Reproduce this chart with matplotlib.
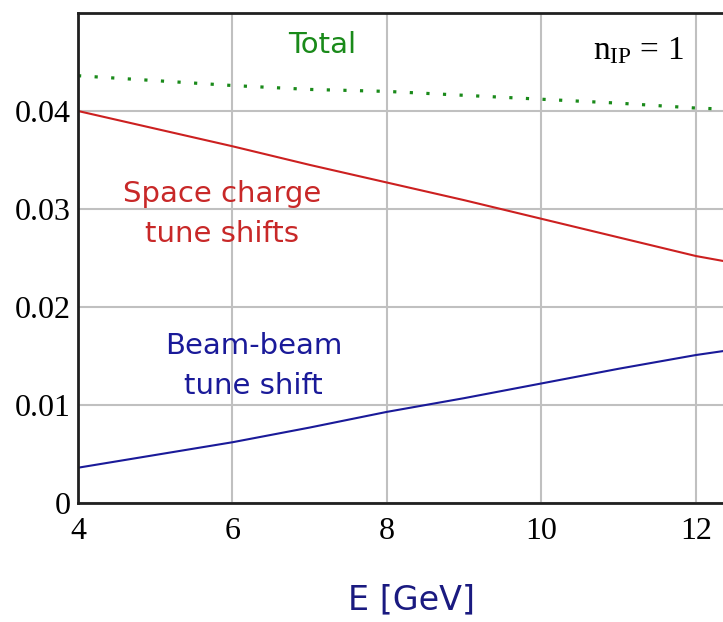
import matplotlib.pyplot as plt
import numpy as np

# energy points [GeV]
energy = [4, 5, 6, 7, 8, 9, 10, 11, 12, 12.35]

# tune shifts
space_charge = [0.0400, 0.0382, 0.0364, 0.0345, 0.0327, 0.0309, 0.0290, 0.0271, 0.0252, 0.0247]
beam_beam = [0.0036, 0.0049, 0.0062, 0.0077, 0.0093, 0.0107, 0.0122, 0.0137, 0.0151, 0.0155]
total = [0.0436, 0.0431, 0.0426, 0.0422, 0.0420, 0.0416, 0.0412, 0.0408, 0.0403, 0.0402]

x_ticks = [4, 6, 8, 10, 12]
y_ticks = [0, 0.01, 0.02, 0.03, 0.04]
y_tick_labels = ["0", "0.01", "0.02", "0.03", "0.04"]

fig = plt.figure(figsize=(7.23, 6.22), dpi=100)
ax = fig.add_axes([78 / 723, 1 - 503 / 622, (723 - 78) / 723, (503 - 13) / 622])

# grid
ax.grid(True, color="#c0c0c0", linewidth=1.5)
ax.set_axisbelow(True)

# curves
ax.plot(energy, space_charge, color="#cc2020", linewidth=1.5)
ax.plot(energy, beam_beam, color="#1a1a99", linewidth=1.5)
ax.plot(energy, total, color="#1a8a1a", linewidth=2.3, linestyle=(0, (1, 4.2)))

ax.set_xlim(4, 12.35)
ax.set_ylim(0, 0.05)
ax.set_xticks(x_ticks)
ax.set_yticks(y_ticks)
ax.set_yticklabels(y_tick_labels)
ax.tick_params(axis="x", length=0, labelsize=23, pad=10)
ax.tick_params(axis="y", length=0, labelsize=23, pad=5)
for lab in ax.get_xticklabels() + ax.get_yticklabels():
    lab.set_family("Liberation Serif")

ax.spines["right"].set_visible(False)
for side in ["left", "bottom", "top"]:
    ax.spines[side].set_linewidth(2)
    ax.spines[side].set_color("#202020")

# labels
sans = "DejaVu Sans"
ax.text(7.16, 0.0467, "Total", color="#1a8a1a", fontsize=21, family=sans,
        ha="center", va="center")
ax.text(11.25, 0.0461, r"$\mathregular{n_{IP}}$ = 1", color="black", fontsize=24,
        family="Liberation Serif", ha="center", va="center")
ax.text(5.87, 0.0295, "Space charge\ntune shifts", color="#c82828", fontsize=21,
        family=sans, ha="center", va="center", linespacing=1.55)
ax.text(6.27, 0.0140, "Beam-beam\ntune shift", color="#1a1a99", fontsize=21,
        family=sans, ha="center", va="center", linespacing=1.55)
ax.set_xlabel("E [GeV]", color="#1a1a80", fontsize=24, family=sans, va="center")
ax.xaxis.set_label_coords((412 - 78) / 645, -(600 - 503) / 490)

plt.savefig("out.png", dpi=100)
